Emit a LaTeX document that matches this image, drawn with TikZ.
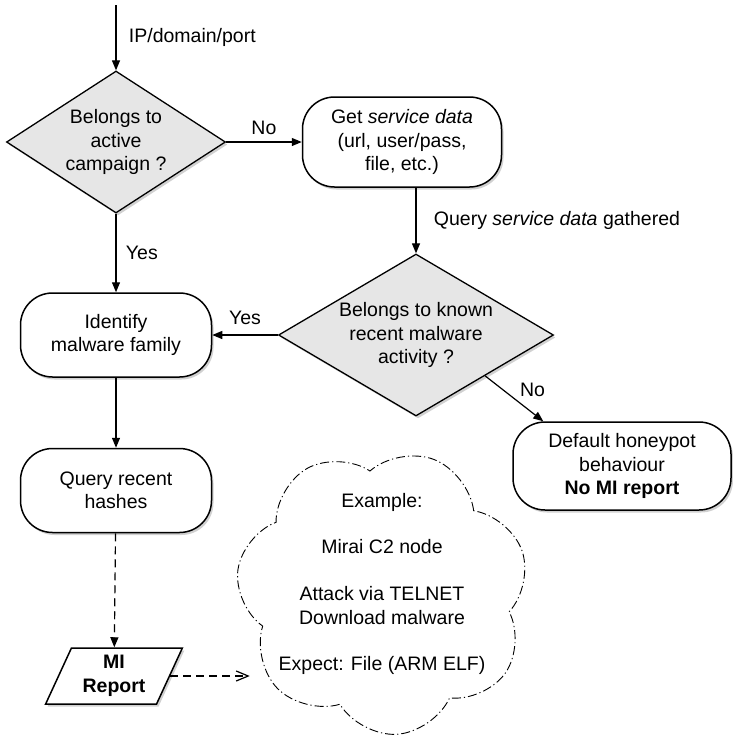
\documentclass[tikz,border=0pt]{standalone}
\usepackage{fontspec}
\setmainfont{Liberation Sans}
\usetikzlibrary{positioning,shapes.geometric,shapes.symbols,shadows,arrows.meta}
\definecolor{DecGrey}{HTML}{E6E6E6}
\definecolor{ShadeGrey}{HTML}{9A9A9A}

\begin{document}
\begin{tikzpicture}[x=1pt,y=-1pt,>={Triangle[length=10pt,width=8pt]},node distance=70pt,
    line width=1.2pt,font=\fontsize{19.5}{23.4}\selectfont]
  \tikzstyle{shadowed}=[drop shadow={shadow xshift=2pt,shadow yshift=-2.5pt,opacity=.45,fill=ShadeGrey}]
  \tikzstyle{decision}=[draw,fill=DecGrey,diamond,inner sep=0pt,align=center,line width=1.3pt,shadowed]
  \tikzstyle{stepbox}=[draw,fill=white,rounded corners=32pt,inner sep=0pt,align=center,
    minimum width=191pt,minimum height=84pt,line width=1.5pt,shadowed]
  \tikzstyle{dashline}=[dash pattern=on 8pt off 5pt]
  \useasboundingbox (0,0) rectangle (732,737);
  % decisions
  \node[decision,minimum width=219pt,minimum height=142pt,aspect=1.54] (d1) at (116,142)
    {Belongs to\\active\\campaign ?};
  \node[decision,minimum width=275pt,minimum height=162pt,aspect=1.7] (d2) at (416,335)
    {Belongs to known\\recent malware\\activity ?};
  % steps
  \node[stepbox,minimum width=199pt,minimum height=90pt] (b2) at (402,142)
    {Get \textit{service data}\\(url, user/pass,\\file, etc.)};
  \node[stepbox] (b3) at (116,335) {Identify\\malware family};
  \node[stepbox,below=70pt of b3] (b4) {Query recent\\hashes};
  \node[stepbox,minimum width=218pt,minimum height=88pt] (b5) at (622,466)
    {Default honeypot\\behaviour\\\textbf{No MI report}};
  \node[draw,fill=white,trapezium,trapezium left angle=65,trapezium right angle=115,
    trapezium stretches=true,minimum width=137pt,minimum height=56pt,inner sep=0pt,
    align=center,line width=1.5pt,shadowed] (mi) at (114,676) {\textbf{MI}\\\textbf{Report}};
  % example cloud
  \node[cloud,cloud puffs=7,cloud puff arc=125,cloud ignores aspect,draw,
    dash pattern=on 9pt off 3pt on 1.2pt off 3pt,line width=0.9pt,
    minimum width=294pt,minimum height=284pt,inner sep=0pt,rotate=-21] (ex) at (383,592) {};
  \node[align=center] (extext) at (382,584)
    {Example:\\[23.4pt]Mirai C2 node\\[23.4pt]Attack via TELNET\\Download malware\\[23.4pt]Expect: File (ARM ELF)};
  % connectors
  \coordinate (in) at (116,5);
  \draw[->] (in) -- node[right=9pt] {IP/domain/port} (d1);
  \draw[->] (d1) -- node[above=3pt] {No} (b2);
  \draw[->] (d1) -- node[right=6pt] {Yes} (b3);
  \draw[->] (b2.south -| d2.north) -- node[right=14pt] {Query \textit{service data} gathered} (d2.north);
  \draw[->] (d2) -- node[above=6pt] {Yes} (b3);
  \draw[->] (d2.south east) -- node[above right=-2pt and 2pt] {No} ([xshift=31pt]b5.north west);
  \draw[->] (b3) -- (b4);
  \draw[->,dashline] (b4) -- (mi);
  \draw[-{Straight Barb[length=12pt,width=10pt]},dashline] (mi.east) -- (mi.east -| ex.west);
\end{tikzpicture}
\end{document}
